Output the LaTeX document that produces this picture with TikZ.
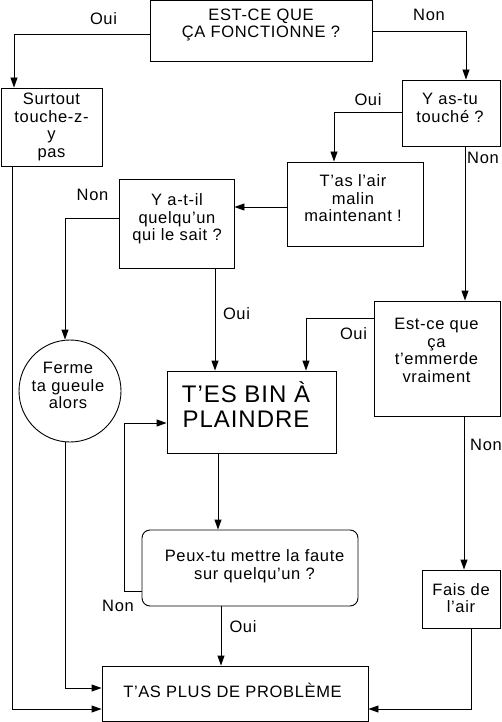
\documentclass[tikz,border=0pt]{standalone}
\usepackage{fontspec}
\setmainfont{Liberation Sans}[LetterSpace=4]
\usetikzlibrary{arrows.meta}
\begin{document}
\begin{tikzpicture}[x=1pt,y=-1pt,
  box/.style={draw, line width=0.9pt, inner sep=0pt},
  txt/.style={align=center, inner sep=0pt, font=\fontsize{16.5}{17.5}\selectfont},
  big/.style={align=center, inner sep=0pt, font=\fontsize{24}{25}\selectfont},
  lbl/.style={inner sep=0pt, font=\fontsize{16.5}{17.5}\selectfont},
  arr/.style={line width=0.9pt, -{Triangle[length=10pt,width=7pt]}}]
\useasboundingbox (0,0) rectangle (502,722);
% boxes
\node[box, minimum width=222pt, minimum height=60.5pt] (top) at (261,30.75) {};
\node[box, minimum width=101pt, minimum height=78pt] (surt) at (51.5,127) {};
\node[box, minimum width=98pt, minimum height=66pt] (yas) at (451,113) {};
\node[box, minimum width=136pt, minimum height=84pt] (tas) at (355,204) {};
\node[box, minimum width=115pt, minimum height=89pt] (yat) at (176.5,223.5) {};
\node[box, circle, minimum size=102pt] (ferme) at (70,391) {};
\node[box, minimum width=126pt, minimum height=115pt] (est) at (437,358.5) {};
\node[box, minimum width=169pt, minimum height=82pt] (tes) at (251.5,412) {};
\node[box, rounded corners=8pt, minimum width=216pt, minimum height=76pt] (peux) at (250,568) {};
\node[box, minimum width=78pt, minimum height=58pt] (fais) at (461,599) {};
\node[box, minimum width=266pt, minimum height=55pt] (plus) at (235,693.5) {};
% texts
\node[txt] (topt) at (261,25) {EST-CE QUE\\ÇA FONCTIONNE ?};
\node[txt] (surtt) at (51.5,127) {Surtout\\touche-z-\\y\\pas};
\node[txt] (yast) at (450,108) {Y as-tu\\touché ?};
\node[txt] (tast) at (353,198.5) {T’as l’air\\malin\\maintenant !};
\node[txt] (yatt) at (177,219) {Y a-t-il\\quelqu’un\\qui le sait ?};
\node[txt] (fermet) at (68,385.5) {Ferme\\ta gueule\\alors};
\node[txt] (estt) at (436.5,350.5) {Est-ce que\\ça\\t’emmerde\\vraiment};
\node[big] (test) at (246,404.5) {T’ES BIN À\\PLAINDRE};
\node[txt] (peuxt) at (254.5,566) {Peux-tu mettre la faute\\sur quelqu’un ?};
\node[txt] (faist) at (461,598) {Fais de\\l’air};
\node[txt] (plust) at (232.5,690) {T’AS PLUS DE PROBLÈME};
% labels
\node[lbl] (l1) at (103.5,18.5) {Oui};
\node[lbl] (l2) at (429,14.5) {Non};
\node[lbl] (l3) at (368,100) {Oui};
\node[lbl] (l4) at (483,158) {Non};
\node[lbl] (l5) at (92.5,195) {Non};
\node[lbl] (l6) at (236.5,314) {Oui};
\node[lbl] (l7) at (353.5,334) {Oui};
\node[lbl] (l8) at (486,445) {Non};
\node[lbl] (l9) at (118,606) {Non};
\node[lbl] (l10) at (243,627) {Oui};
% connectors
\coordinate (c1) at (14,34);
\draw[arr] (top.west |- c1) -- (c1) -- (c1 |- surt.north);
\coordinate (c2) at (466,31);
\draw[arr] (top.east |- c2) -- (c2) -- (c2 |- yas.north);
\coordinate (c3) at (334,112);
\draw[arr] (yas.west |- c3) -- (c3) -- (c3 |- tas.north);
\coordinate (c4) at (465,0);
\draw[arr] (c4 |- yas.south) -- (c4 |- est.north);
\coordinate (c5) at (0,207);
\draw[arr] (tas.west |- c5) -- (yat.east |- c5);
\coordinate (c6) at (65,218);
\draw[arr] (yat.west |- c6) -- (c6) -- (c6 |- ferme.north);
\coordinate (c7) at (215,0);
\draw[arr] (c7 |- yat.south) -- (c7 |- tes.north);
\coordinate (c8) at (306,318);
\draw[arr] (est.west |- c8) -- (c8) -- (c8 |- tes.north);
\coordinate (c9) at (464,0);
\draw[arr] (c9 |- est.south) -- (c9 |- fais.north);
\coordinate (c10a) at (124,591);
\coordinate (c10b) at (124,423);
\draw[arr] (peux.west |- c10a) -- (c10a) -- (c10b) -- (tes.west |- c10b);
\coordinate (c11) at (218,0);
\draw[arr] (c11 |- tes.south) -- (c11 |- peux.north);
\coordinate (c12) at (221,0);
\draw[arr] (c12 |- peux.south) -- (c12 |- plus.north);
\coordinate (c13) at (65,688);
\draw[arr] (c13 |- ferme.south) -- (c13) -- (plus.west |- c13);
\coordinate (c14) at (12,709);
\draw[arr] (c14 |- surt.south) -- (c14) -- (plus.west |- c14);
\coordinate (c15) at (471,709);
\draw[arr] (c15 |- fais.south) -- (c15) -- (plus.east |- c15);
\end{tikzpicture}
\end{document}
